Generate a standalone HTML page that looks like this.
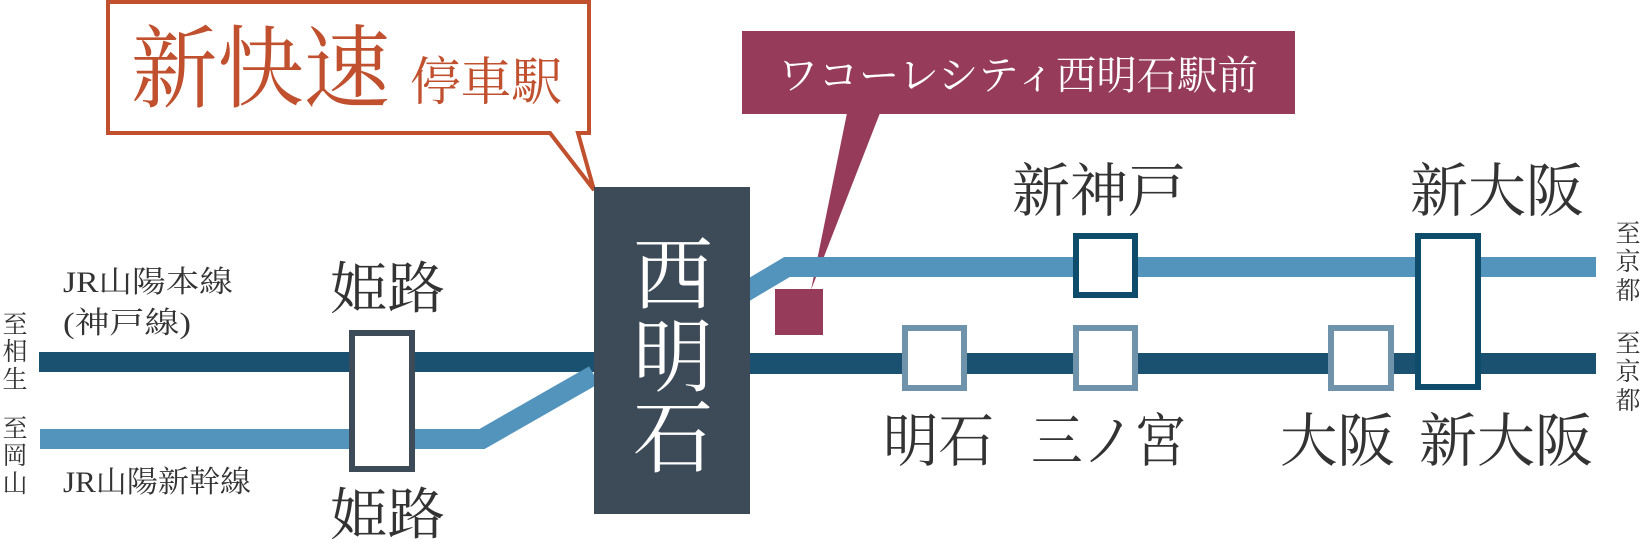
<!DOCTYPE html>
<html><head><meta charset="utf-8"><style>
html,body{margin:0;padding:0;background:#fff;}
svg{display:block;}
text{font-family:"Liberation Serif","Noto Serif CJK SC","Noto Serif CJK JP",serif;}
</style></head><body>
<svg width="1640" height="554" viewBox="0 0 1640 554" xmlns="http://www.w3.org/2000/svg">
<!-- orange callout -->
<path d="M108,2 H589 V133 H578 L594,190 L550,133 H108 Z" fill="#fff" stroke="#c0502e" stroke-width="4"/>
<text x="131" y="100" font-size="90" fill="#c0502e" textLength="259" lengthAdjust="spacingAndGlyphs">新快速</text>
<text x="410" y="100" font-size="52" fill="#c0502e" textLength="152" lengthAdjust="spacingAndGlyphs">停車駅</text>

<!-- purple callout -->
<rect x="742" y="31" width="553" height="83" fill="#963c5a"/>
<path d="M847,113 L880,113 L811,290 Z" fill="#963c5a"/>
<text x="778" y="89" font-size="40" fill="#fff" textLength="480" lengthAdjust="spacingAndGlyphs">ワコーレシティ西明石駅前</text>

<!-- lines left -->
<rect x="39" y="352" width="560" height="20" fill="#1b5170"/>
<path d="M40,439 H482 L594,375" fill="none" stroke="#5394bd" stroke-width="20"/>
<!-- lines right -->
<rect x="745" y="353" width="851" height="21" fill="#1b5170"/>
<path d="M745,292 L787,267 H1596" fill="none" stroke="#5394bd" stroke-width="20"/>

<!-- Nishi-Akashi box -->
<rect x="594" y="187" width="156" height="327" fill="#3d4a57"/>
<text x="673" y="303" font-size="80" fill="#fff" text-anchor="middle">西</text>
<text x="673" y="385" font-size="80" fill="#fff" text-anchor="middle">明</text>
<text x="673" y="466" font-size="80" fill="#fff" text-anchor="middle">石</text>

<!-- purple square -->
<rect x="775" y="289" width="48" height="46" fill="#963c5a"/>

<!-- Himeji -->
<rect x="352" y="333" width="60" height="136" fill="#fff" stroke="#3d4a57" stroke-width="6"/>
<text x="330" y="308" font-size="56" fill="#333" textLength="115" lengthAdjust="spacingAndGlyphs">姫路</text>
<text x="330" y="534" font-size="56" fill="#333" textLength="115" lengthAdjust="spacingAndGlyphs">姫路</text>

<!-- station boxes right -->
<rect x="1076" y="236" width="59" height="59" fill="#fff" stroke="#0d4d6b" stroke-width="6"/>
<rect x="1418" y="236" width="60" height="151" fill="#fff" stroke="#0d4d6b" stroke-width="6"/>
<rect x="905" y="328" width="59" height="60" fill="#fff" stroke="#6f93ab" stroke-width="6"/>
<rect x="1076" y="328" width="59" height="60" fill="#fff" stroke="#6f93ab" stroke-width="6"/>
<rect x="1331" y="328" width="60" height="60" fill="#fff" stroke="#6f93ab" stroke-width="6"/>

<!-- labels right -->
<text x="1012" y="211" font-size="58" fill="#333" textLength="174" lengthAdjust="spacingAndGlyphs">新神戸</text>
<text x="1410" y="211" font-size="58" fill="#333" textLength="174" lengthAdjust="spacingAndGlyphs">新大阪</text>
<text x="883" y="461" font-size="58" fill="#333" textLength="111" lengthAdjust="spacingAndGlyphs">明石</text>
<text x="1031" y="461" font-size="58" fill="#333" textLength="155" lengthAdjust="spacingAndGlyphs">三ノ宮</text>
<text x="1280" y="461" font-size="58" fill="#333" textLength="115" lengthAdjust="spacingAndGlyphs">大阪</text>
<text x="1419" y="461" font-size="58" fill="#333" textLength="174" lengthAdjust="spacingAndGlyphs">新大阪</text>

<!-- line names -->
<text x="63" y="292" font-size="30" fill="#333" textLength="170" lengthAdjust="spacingAndGlyphs">JR山陽本線</text>
<text x="63" y="333" font-size="30" fill="#333" textLength="128" lengthAdjust="spacingAndGlyphs">(神戸線)</text>
<text x="63" y="492" font-size="30" fill="#333" textLength="188" lengthAdjust="spacingAndGlyphs">JR山陽新幹線</text>

<!-- vertical direction labels -->
<g font-size="25" fill="#333" text-anchor="middle">
<text x="15" y="333">至</text><text x="15" y="360">相</text><text x="15" y="388">生</text>
<text x="15" y="437">至</text><text x="15" y="464">岡</text><text x="15" y="492">山</text>
<text x="1628" y="242">至</text><text x="1628" y="270">京</text><text x="1628" y="299">都</text>
<text x="1628" y="352">至</text><text x="1628" y="380">京</text><text x="1628" y="409">都</text>
</g>
</svg>
</body></html>
